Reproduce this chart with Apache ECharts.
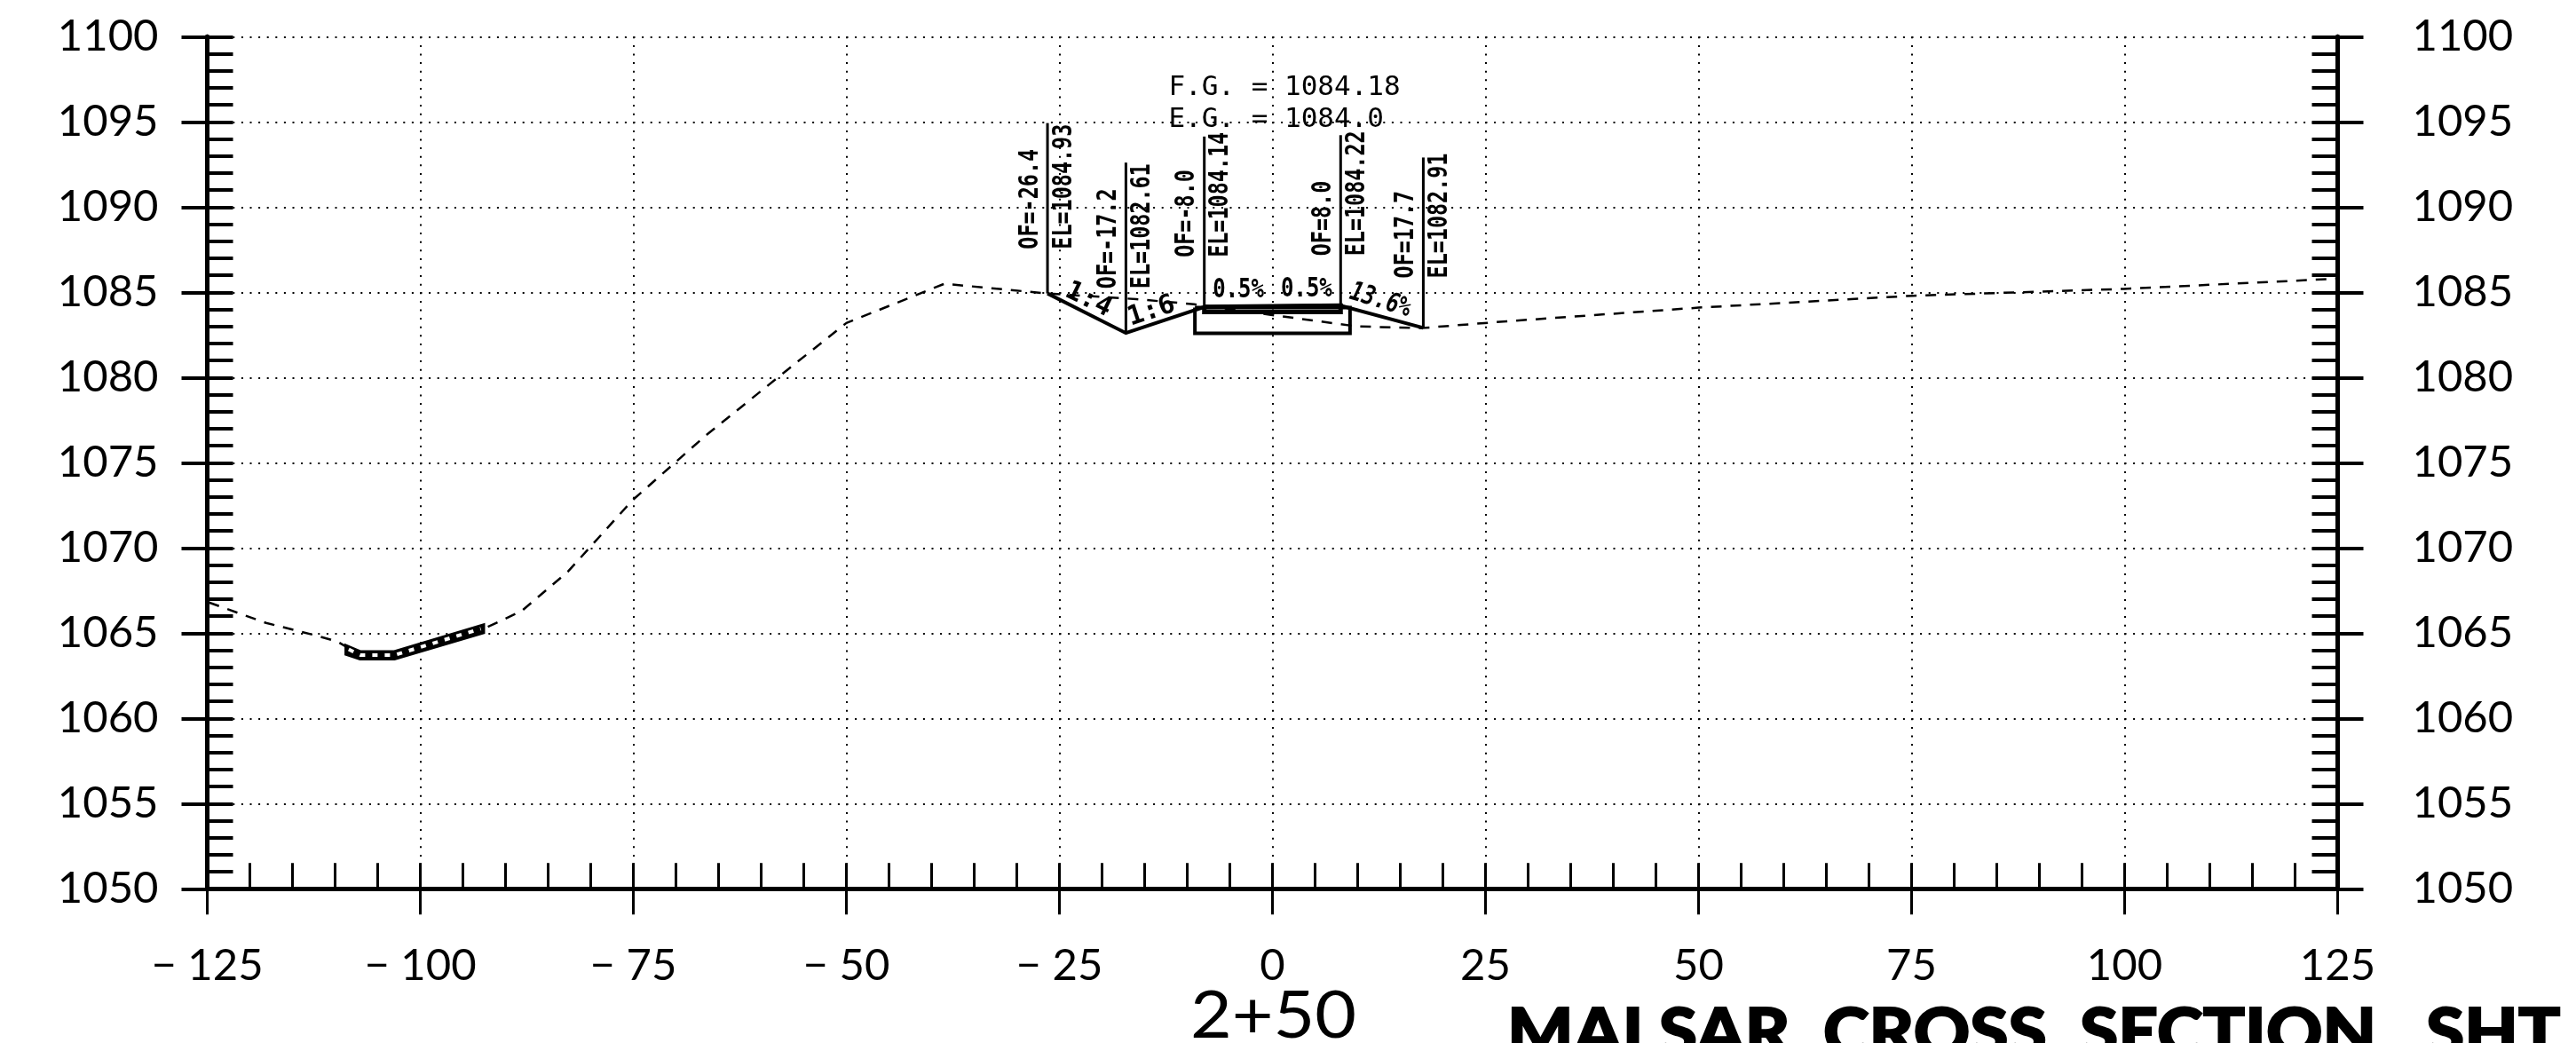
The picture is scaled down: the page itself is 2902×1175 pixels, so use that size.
<!DOCTYPE html>
<html><head><meta charset="utf-8">
<style>html,body{margin:0;padding:0;background:#fff;overflow:hidden}#c{width:2902px;height:1175px}</style>
<script src="https://cdn.jsdelivr.net/npm/echarts@6/dist/echarts.min.js"></script>
</head><body><div id="c"></div>
<script>
// ---- data ----
const groundX = [-124.8,-118.1,-112.2,-109.7,-107,-103,-92.4,-88.1,-82.7,-75.1,-66.5,-56.8,-50,-38.5,-26.4,-16,-9.2,-2,9.9,17.5,27.5,50,75.2,99.9,125];
const groundY = [1066.8,1065.6,1064.86,1064.5,1063.7,1063.7,1065.3,1066.3,1068.6,1072.8,1076.6,1080.5,1083.2,1085.5,1084.93,1084.6,1084.3,1083.8,1083.0,1082.9,1083.3,1084.1,1084.8,1085.2,1085.8];
const designX = [-26.4,-17.2,-8,0,8,17.7];
const designY = [1084.93,1082.61,1084.14,1084.18,1084.22,1082.91];
const paveX = [-8,0,8,8,-8,-8];
const paveY = [1084.14,1084.18,1084.22,1083.85,1083.85,1084.14];
const boxX = [-9.1,9.1,9.1,-9.1,-9.1];
const boxY = [1084.1,1084.1,1082.6,1082.6,1084.1];
const channelTopX = [-108.9,-107,-103.1,-92.4];
const channelTopY = [1064.4,1064.0,1064.0,1065.6];
const channelBotX = [-108.9,-107.1,-103,-92.4];
const channelBotY = [1063.7,1063.4,1063.4,1064.96];
const channelMidX = [-108.4,-107.05,-103,-92.9];
const channelMidY = [1064.05,1063.72,1063.72,1065.26];
const stationX = [-26.4,-17.2,-8,8,17.7];
const stationEl = [1084.93,1082.61,1084.14,1084.22,1082.91];
const offsetText = ['OF=-26.4','OF=-17.2','OF=-8.0','OF=8.0','OF=17.7'];
const elevText = ['EL=1084.93','EL=1082.61','EL=1084.14','EL=1084.22','EL=1082.91'];
const stationRise = 10;
const slopeText = ['1:4','1:6','0.5%','0.5%','13.6%'];
const slopeX = [-21.6,-14.2,-4,4,12.65];
const slopeY = [1084.55,1083.87,1085.12,1085.17,1084.5];
const noteText = ['F.G. = 1084.18','E.G. = 1084.0'];
const noteX = [-12.2,-12.2];
const noteY = [1097,1095.1];
const stationTitle = '2+50';
const sheetTitle = 'MALSAR  CROSS  SECTION   SHT';
// ---- styles ----
const K='#000';
const pair=(a,b)=>a.map((v,i)=>[v,b[i]]);
const line=(x,y,w,extra)=>Object.assign({type:'line',data:pair(x,y),symbol:'none',silent:true,animation:false,clip:false,
  lineStyle:{color:K,width:w,cap:'butt',join:'miter'}},extra||{});
const chart=echarts.init(document.getElementById('c'),null,{renderer:'canvas'});
const xBase={type:'value',min:-125,max:125,position:'bottom',
  axisLine:{show:true,onZero:false,lineStyle:{color:K,width:5}}};
const yBase={type:'value',min:1050,max:1100,
  axisLine:{show:true,onZero:false,lineStyle:{color:K,width:5}}};
const labelFont={color:K,fontFamily:'Lato',fontSize:49};
const dots={show:true,lineStyle:{color:K,width:2,type:[2,7.6]}};
const plain=v=>String(v);
chart.setOption({
  backgroundColor:'#fff',animation:false,
  grid:{left:233.5,top:41.3,width:2400,height:960},
  xAxis:[
    Object.assign({},xBase,{interval:25,splitLine:dots,
      axisTick:{show:true,length:29,lineStyle:{color:K,width:3}},
      axisLabel:Object.assign({},labelFont,{margin:62,showMinLabel:true,showMaxLabel:true,hideOverlap:false,formatter:v=>String(v).replace('-','\u2212 ')})}),
    Object.assign({},xBase,{interval:5,splitLine:{show:false},axisLabel:{show:false},
      axisTick:{show:true,inside:true,length:29,lineStyle:{color:K,width:3}}})
  ],
  yAxis:[
    Object.assign({},yBase,{position:'left',interval:5,splitLine:dots,
      axisTick:{show:true,length:29,lineStyle:{color:K,width:4}},
      axisLabel:Object.assign({},labelFont,{margin:55,formatter:plain})}),
    Object.assign({},yBase,{position:'left',interval:1,splitLine:{show:false},axisLabel:{show:false},
      axisTick:{show:true,inside:true,length:29,lineStyle:{color:K,width:4}}}),
    Object.assign({},yBase,{position:'right',interval:5,splitLine:{show:false},
      axisTick:{show:true,length:29,lineStyle:{color:K,width:4}},
      axisLabel:Object.assign({},labelFont,{margin:84,formatter:plain})}),
    Object.assign({},yBase,{position:'right',interval:1,splitLine:{show:false},axisLabel:{show:false},
      axisTick:{show:true,inside:true,length:29,lineStyle:{color:K,width:4}}})
  ],
  graphic:[
    {type:'text',x:1341,y:1108,scaleX:1.09,silent:true,style:{text:stationTitle,fill:K,font:'74px Lato'}},
    {type:'text',x:1698,y:1128,scaleX:1.06,silent:true,style:{text:sheetTitle,fill:K,stroke:K,lineWidth:2,font:'900 74px Lato'}}
  ],
  series:[
    line(groundX,groundY,2.5,{z:2,lineStyle:{color:K,width:2.5,type:[12,10]}}),
    line(designX,designY,4,{z:4}),
    line(paveX,paveY,5,{z:4}),
    line(boxX,boxY,4,{z:3}),
    {type:'custom',z:5,silent:true,clip:false,animation:false,coordinateSystem:'cartesian2d',data:[[channelTopX[0],channelTopY[0]]],
      renderItem:(p,api)=>{
        const pts=pair(channelTopX,channelTopY).concat(pair(channelBotX,channelBotY).reverse()).map(c=>api.coord(c));
        return {type:'polygon',shape:{points:pts},style:{fill:K}};
      }},
    line(channelMidX,channelMidY,4,{z:6,lineStyle:{color:'#fff',width:4,type:[6,8]}}),
    {type:'custom',z:7,silent:true,clip:false,animation:false,coordinateSystem:'cartesian2d',data:pair(stationX,stationEl),
      renderItem:(p,api)=>{
        const i=p.dataIndex,a=api.coord([stationX[i],stationEl[i]]),t=api.coord([stationX[i],stationEl[i]+stationRise]);
        const font='bold 30px "DejaVu Sans Mono"';
        const txt=(s,dx)=>({type:'text',x:a[0]+dx,y:a[1]-(i<2?50:56),rotation:Math.PI/2,scaleX:0.78,
          style:{text:s,x:0,y:0,align:'left',verticalAlign:'middle',fill:K,font}});
        return {type:'group',children:[
          {type:'line',shape:{x1:a[0],y1:a[1],x2:t[0],y2:t[1]},style:{stroke:K,lineWidth:3}},
          txt(offsetText[i],-19),txt(elevText[i],19)]};
      }},
    {type:'custom',z:8,silent:true,clip:false,animation:false,coordinateSystem:'cartesian2d',data:pair(slopeX,slopeY),
      renderItem:(p,api)=>{
        const i=p.dataIndex,a=api.coord([slopeX[i],slopeY[i]]);
        return {type:'text',x:a[0],y:a[1],rotation:-[26,-18,0,0,17][i]*Math.PI/180,scaleX:[1,1,.8,.8,.78][i],
          style:{text:slopeText[i],x:0,y:0,align:'center',verticalAlign:'middle',fill:K,
            font:(i==4?'italic ':'')+'bold 30px "DejaVu Sans Mono"'}};
      }},
    {type:'custom',z:8,silent:true,clip:false,animation:false,coordinateSystem:'cartesian2d',data:pair(noteX,noteY),
      renderItem:(p,api)=>{
        const i=p.dataIndex,a=api.coord([noteX[i],noteY[i]]);
        return {type:'text',x:a[0],y:a[1],style:{text:noteText[i],x:0,y:0,align:'left',verticalAlign:'middle',fill:K,font:'31px "DejaVu Sans Mono"'}};
      }}
  ]
});
</script></body></html>
